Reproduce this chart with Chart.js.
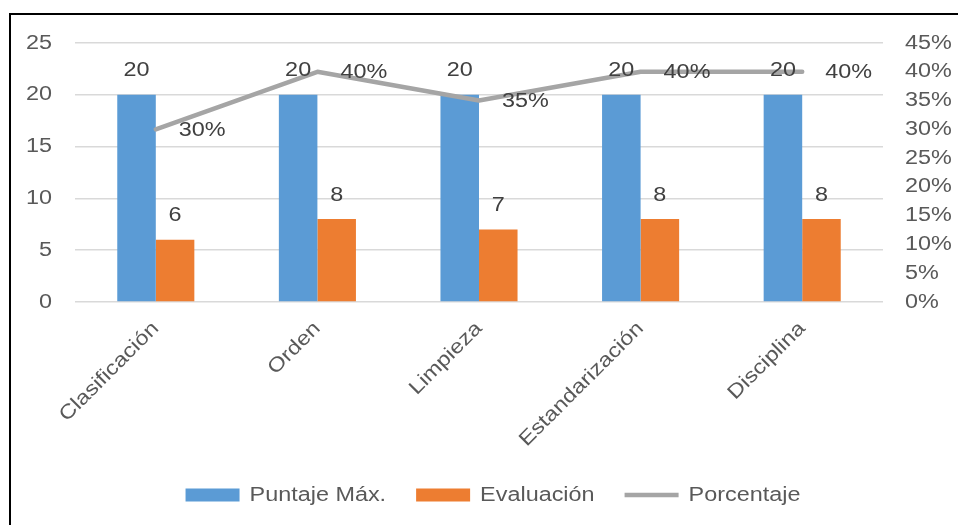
<!DOCTYPE html>
<html>
<head>
<meta charset="utf-8">
<script src="https://cdn.jsdelivr.net/npm/chart.js@4.4.1/dist/chart.umd.min.js"></script>
<style>
  html, body { margin: 0; padding: 0; background: #fff; }
  #wrap { position: relative; width: 958px; height: 525px; overflow: hidden; }
  #frame { position: absolute; left: 9px; top: 13px; width: 1000px; height: 600px;
           border: 2px solid #000; box-sizing: border-box; pointer-events: none; }
  canvas { position: absolute; left: 0; top: 0; }
</style>
</head>
<body>
<div id="wrap">
  <canvas id="c" width="958" height="525"></canvas>
  <div id="frame"></div>
</div>
<script>
// 5S audit results per pillar
const categories = ['Clasificación', 'Orden', 'Limpieza', 'Estandarización', 'Disciplina'];
const puntajeMax = [20, 20, 20, 20, 20];
const evaluacion = [6, 8, 7, 8, 8];
const porcentaje = [0.30, 0.40, 0.35, 0.40, 0.40];
const leftTicks = [0, 5, 10, 15, 20, 25];
const rightTicks = [0, 0.05, 0.10, 0.15, 0.20, 0.25, 0.30, 0.35, 0.40, 0.45];

const FONT = "'Liberation Sans', Arial, sans-serif";
const TEXT_SX = 1.17;   // wide text: glyphs drawn with a horizontal stretch
const pct = v => Math.round(v * 100) + '%';

const canvas = document.getElementById('c');
const ctx2d = canvas.getContext('2d');
(function widenText(ctx) {
  const fill = ctx.fillText.bind(ctx);
  const measure = ctx.measureText.bind(ctx);
  ctx.fillText = function (t, x, y, maxW) {
    ctx.save();
    ctx.translate(x, y);
    ctx.scale(TEXT_SX, 1);
    fill(t, 0, 0);
    ctx.restore();
  };
  ctx.measureText = function (t) {
    const m = measure(t);
    return {
      width: m.width * TEXT_SX,
      actualBoundingBoxAscent: m.actualBoundingBoxAscent,
      actualBoundingBoxDescent: m.actualBoundingBoxDescent,
      actualBoundingBoxLeft: m.actualBoundingBoxLeft * TEXT_SX,
      actualBoundingBoxRight: m.actualBoundingBoxRight * TEXT_SX,
      fontBoundingBoxAscent: m.fontBoundingBoxAscent,
      fontBoundingBoxDescent: m.fontBoundingBoxDescent
    };
  };
})(ctx2d);

// Value labels: above bars, to the right of line points
const valueLabels = {
  id: 'valueLabels',
  afterDatasetsDraw(chart) {
    const ctx = chart.ctx;
    ctx.save();
    ctx.font = '20px ' + FONT;
    ctx.fillStyle = '#404040';
    ctx.textBaseline = 'middle';
    chart.data.datasets.forEach((ds, i) => {
      const meta = chart.getDatasetMeta(i);
      meta.data.forEach((el, j) => {
        const v = ds.data[j];
        if (ds.type === 'line') {
          ctx.textAlign = 'left';
          ctx.fillText(pct(v), el.x + 23, el.y + 1);
        } else {
          ctx.textAlign = 'center';
          ctx.fillText(String(v), el.x, el.y - 24);
        }
      });
    });
    ctx.restore();
  }
};

// Nudge the legend row to the right
const legendShift = {
  id: 'legendShift',
  afterLayout(chart) {
    if (chart.legend) { chart.legend.left += 14; chart.legend.right += 14; }
  }
};

new Chart(canvas, {
  data: {
    labels: categories,
    datasets: [
      { type: 'bar', label: 'Puntaje Máx.', data: puntajeMax, backgroundColor: '#5B9BD5',
        borderWidth: 0, yAxisID: 'y', order: 1, pointStyle: 'rect',
        categoryPercentage: 0.477, barPercentage: 1 },
      { type: 'bar', label: 'Evaluación', data: evaluacion, backgroundColor: '#ED7D31',
        borderWidth: 0, yAxisID: 'y', order: 1, pointStyle: 'rect',
        categoryPercentage: 0.477, barPercentage: 1 },
      { type: 'line', label: 'Porcentaje', data: porcentaje, borderColor: '#A5A5A5',
        backgroundColor: '#A5A5A5', borderWidth: 4.5, borderCapStyle: 'round',
        borderJoinStyle: 'round', pointRadius: 0, pointStyle: 'line', tension: 0,
        yAxisID: 'y1', order: 0 }
    ]
  },
  options: {
    responsive: false,
    animation: false,
    events: [],
    layout: { padding: { top: 43, left: 0, right: 0, bottom: 10 } },
    scales: {
      x: {
        afterFit: a => { a.height = 153; },
        grid: { display: false },
        border: { display: false },
        ticks: { color: '#595959', font: { family: FONT, size: 20 },
                 minRotation: 45, maxRotation: 45, padding: 7 }
      },
      y: {
        position: 'left', min: 0, max: 25,
        afterFit: a => { a.width = 75; },
        afterBuildTicks: a => { a.ticks = leftTicks.map(v => ({ value: v })); },
        grid: { color: '#D9D9D9', lineWidth: 1.5, drawTicks: false },
        border: { display: false },
        ticks: { color: '#595959', font: { family: FONT, size: 20 }, padding: 23 }
      },
      y1: {
        position: 'right', min: 0, max: 0.45,
        afterFit: a => { a.width = 75; },
        afterBuildTicks: a => { a.ticks = rightTicks.map(v => ({ value: v })); },
        grid: { display: false, drawTicks: false },
        border: { display: false },
        ticks: { color: '#595959', font: { family: FONT, size: 20 }, padding: 22,
                 callback: v => pct(v) }
      }
    },
    plugins: {
      tooltip: { enabled: false },
      legend: {
        position: 'bottom',
        labels: {
          usePointStyle: true, pointStyleWidth: 54, boxHeight: 13,
          color: '#595959', font: { family: FONT, size: 20 }, padding: 30,
          sort: (a, b) => a.datasetIndex - b.datasetIndex
        }
      }
    }
  },
  plugins: [valueLabels, legendShift]
});
</script>
</body>
</html>
